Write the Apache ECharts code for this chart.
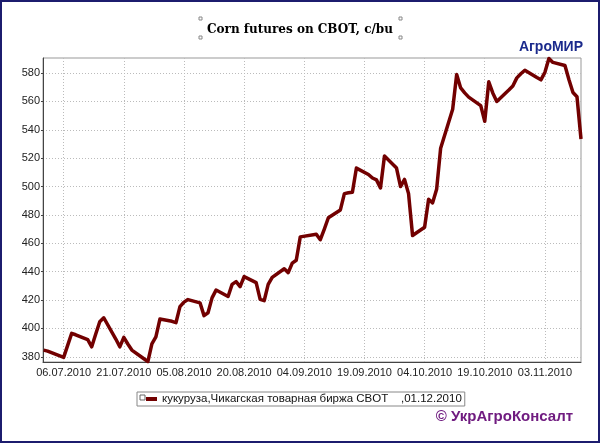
<!DOCTYPE html>
<html>
<head>
<meta charset="utf-8">
<script src="https://cdn.jsdelivr.net/npm/echarts@6/dist/echarts.min.js"></script>
<style>
html,body{margin:0;padding:0;background:#fff;}
#chart{width:600px;height:443px;}
</style>
</head>
<body>
<div id="chart"></div>
<script>
const dates = ['2010-07-01','2010-07-02','2010-07-06','2010-07-07','2010-07-08','2010-07-09','2010-07-12','2010-07-13','2010-07-14','2010-07-15','2010-07-16','2010-07-19','2010-07-20','2010-07-21','2010-07-22','2010-07-23','2010-07-26','2010-07-27','2010-07-28','2010-07-29','2010-07-30','2010-08-02','2010-08-03','2010-08-04','2010-08-05','2010-08-06','2010-08-09','2010-08-10','2010-08-11','2010-08-12','2010-08-13','2010-08-16','2010-08-17','2010-08-18','2010-08-19','2010-08-20','2010-08-23','2010-08-24','2010-08-25','2010-08-26','2010-08-27','2010-08-30','2010-08-31','2010-09-01','2010-09-02','2010-09-03','2010-09-07','2010-09-08','2010-09-09','2010-09-10','2010-09-13','2010-09-14','2010-09-15','2010-09-16','2010-09-17','2010-09-20','2010-09-21','2010-09-22','2010-09-23','2010-09-24','2010-09-27','2010-09-28','2010-09-29','2010-09-30','2010-10-01','2010-10-04','2010-10-05','2010-10-06','2010-10-07','2010-10-08','2010-10-11','2010-10-12','2010-10-13','2010-10-14','2010-10-15','2010-10-18','2010-10-19','2010-10-20','2010-10-21','2010-10-22','2010-10-25','2010-10-26','2010-10-27','2010-10-28','2010-10-29','2010-11-01','2010-11-02','2010-11-03','2010-11-04','2010-11-05','2010-11-08','2010-11-09','2010-11-10','2010-11-11','2010-11-12'];
const prices = [384.7,384.0,379.6,388,396.5,395.5,392,387,396,404.7,407.5,392.5,387,393.7,389,384.7,378.6,376.5,389,394,406.6,405,404,415.3,418.5,420.3,418,409,411,421.5,427,422.5,431,433,429.4,436.5,432.3,420.5,419.5,431,436,442,439.3,446,448,464.5,466.4,462.5,470,478,483.5,495,495.6,496,513,508.5,506,504.7,499,521.5,513,500,505,495,465.5,471.3,491,488.5,498,527,554.5,579,569.5,566,563,557,546,573.8,566,560,568,570.8,576.6,579.5,582,576.8,575.2,580.5,590.3,587.5,585.3,575.3,566.3,563.3,533.5];
const xTickDates = ['2010-07-06','2010-07-21','2010-08-05','2010-08-20','2010-09-04','2010-09-19','2010-10-04','2010-10-19','2010-11-03'];
const yTicks = [380,400,420,440,460,480,500,520,540,560,580];
const seriesName = 'кукуруза,Чикагская товарная биржа CBOT    ,01.12.2010';
const titleText = 'Corn futures on CBOT, c/bu';

function ts(s){const p=s.split('-').map(Number);return Date.UTC(p[0],p[1]-1,p[2]);}
function fmt(v){const d=new Date(v);const dd=String(d.getUTCDate()).padStart(2,'0');const mm=String(d.getUTCMonth()+1).padStart(2,'0');return dd+'.'+mm+'.'+d.getUTCFullYear();}

const data = dates.map((d,i)=>[ts(d),prices[i]]);
const xTicks = xTickDates.map(ts);

const chart = echarts.init(document.getElementById('chart'), null, {renderer:'canvas'});
const handle = (x,y)=>({type:'rect',shape:{x:x,y:y,width:3,height:3},style:{fill:'#fff',stroke:'#888',lineWidth:1}});
chart.setOption({
  animation:false,
  backgroundColor:'#fff',
  title:{text:titleText,left:'center',top:19,textStyle:{fontFamily:'DejaVu Serif',fontWeight:'bold',fontSize:12,color:'#000'}},
  graphic:[
    {type:'rect',shape:{x:1,y:1,width:598,height:441},style:{fill:null,stroke:'#1c1c6e',lineWidth:2},silent:true},
    handle(199,17),handle(399,17),handle(199,36),handle(399,36),
    {type:'text',right:17,top:40,style:{text:'АгроМИР',font:'bold 14px "Liberation Sans", Arial',fill:'#1b2a8c'}},
    {type:'text',right:27,top:409,style:{text:'© УкрАгроКонсалт',font:'bold 15px "Liberation Sans", Arial',fill:'#701c80'}},
    {type:'rect',shape:{x:140,y:395,width:5,height:5},style:{fill:'#fff',stroke:'#666',lineWidth:1},z:100}
  ],
  legend:{left:137,top:392,padding:[1,3,1,9],itemWidth:11,itemHeight:4,itemGap:4,icon:'rect',
    borderColor:'#888',borderWidth:1,
    textStyle:{fontFamily:'"Liberation Sans", Arial',fontSize:11.5,color:'#111'}},
  grid:{left:43,right:19,top:58,bottom:81,show:true,borderColor:'#999',borderWidth:1,outerBoundsMode:'none'},
  xAxis:{type:'value',min:ts('2010-07-01')-0.15*86400000,max:ts('2010-11-12'),
    axisLine:{lineStyle:{color:'#444',width:1}},
    axisTick:{show:false,customValues:xTicks},
    axisLabel:{customValues:xTicks,formatter:fmt,fontFamily:'"Liberation Sans", Arial',fontSize:11,color:'#222',margin:5,hideOverlap:false,showMinLabel:true,showMaxLabel:true},
    splitLine:{show:true,lineStyle:{color:'#bbb',type:[1,2],width:1}}},
  yAxis:{type:'value',min:376.3,max:590.6,
    axisLine:{show:true,lineStyle:{color:'#444',width:1}},
    axisTick:{show:true,length:2,customValues:yTicks,lineStyle:{color:'#444'}},
    axisLabel:{customValues:yTicks,fontFamily:'"Liberation Sans", Arial',fontSize:11,color:'#222',margin:3},
    splitLine:{show:true,lineStyle:{color:'#bbb',type:[1,2],width:1}}},
  series:[{name:seriesName,type:'line',data:data,showSymbol:false,symbol:'none',
    lineStyle:{color:'#720000',width:3.5,join:'round'},itemStyle:{color:'#720000'}}]
});
</script>
</body>
</html>
